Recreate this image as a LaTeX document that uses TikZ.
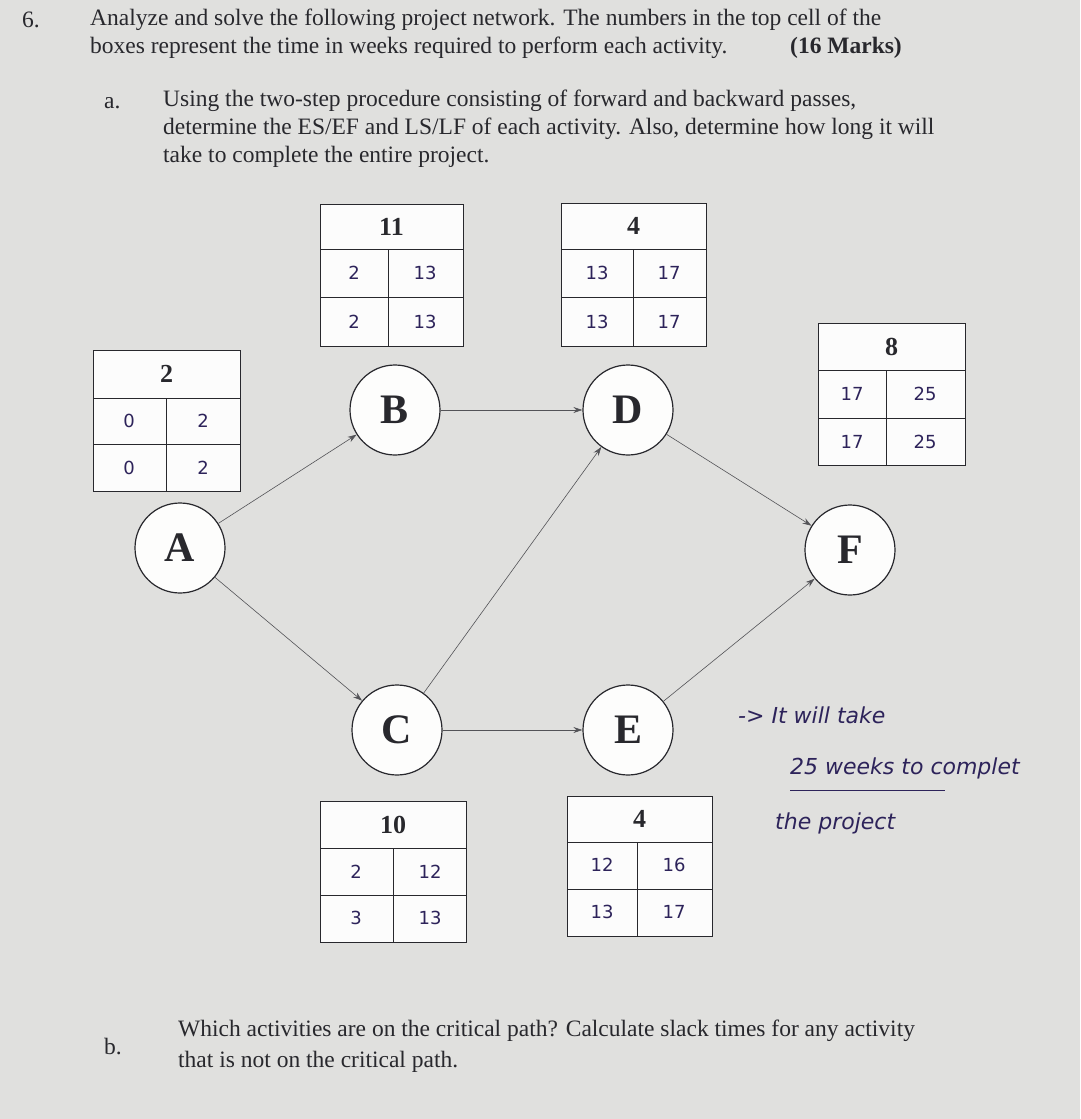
\documentclass[tikz,border=0pt]{standalone}
\usepackage{fontspec}
\setmainfont{Liberation Serif}
\newfontfamily\hand{DejaVu Sans}
\usetikzlibrary{arrows.meta}
\definecolor{paper}{RGB}{224,224,222}
\definecolor{ink}{RGB}{40,40,45}
\definecolor{pen}{RGB}{45,35,90}
\tikzset{
 txt/.style={anchor=west,inner sep=0pt,font=\fontsize{23.5}{25}\selectfont,text=ink},
 act/.style={circle,draw=ink,line width=1.2pt,fill=white!92!paper,minimum size=90pt,inner sep=0pt,font=\fontsize{42}{44}\selectfont\bfseries,text=ink},
 con/.style={draw=ink!80,line width=0.6pt,-{Stealth[length=9pt,width=6pt]}},
 num/.style={font=\hand\fontsize{18}{19}\selectfont,text=pen},
 dur/.style={font=\fontsize{26}{28}\selectfont\bfseries,text=ink},
 note/.style={anchor=west,inner sep=0pt,font=\hand\itshape\fontsize{22}{24}\selectfont,text=pen}
}
\newcommand{\tbox}[9]{%
 \fill[white!90!paper] (#1,#4) rectangle (#2,#7);
 \draw[ink,line width=1pt] (#1,#4) rectangle (#2,#7) (#1,#5)--(#2,#5) (#1,#6)--(#2,#6) (#3,#5)--(#3,#7);
 \node[dur] (#8) at ({(#1+#2)/2},{(#4+#5)/2}) {#9};
}
\begin{document}
\begin{tikzpicture}[x=1pt,y=-1pt]
\fill[paper] (0,0) rectangle (1080,1119);
\useasboundingbox (0,0) rectangle (1080,1119);
\node[txt] (n6) at (22,20) {6.};
\node[txt] (h1) at (90,20) {Analyze and solve the following project network. The numbers in the top cell of the};
\node[txt] (h2) at (90,48) {boxes represent the time in weeks required to perform each activity.};
\node[txt,font=\fontsize{23.5}{25}\selectfont\bfseries] (mk) at (790,48) {(16 Marks)};
\node[txt] (la) at (104,103) {a.};
\node[txt] (a1) at (163,101) {Using the two-step procedure consisting of forward and backward passes,};
\node[txt] (a2) at (163,129) {determine the ES/EF and LS/LF of each activity. Also, determine how long it will};
\node[txt] (a3) at (163,157) {take to complete the entire project.};

\tbox{320}{463}{388}{204}{249}{297}{346}{bB}{11}
\node[num] at (354,273) {2}; \node[num] at (425,273) {13};
\node[num] at (354,322) {2}; \node[num] at (425,322) {13};
\tbox{561}{706}{633}{203}{249}{297}{346}{bD}{4}
\node[num] at (597,273) {13}; \node[num] at (669,273) {17};
\node[num] at (597,322) {13}; \node[num] at (669,322) {17};
\tbox{818}{965}{886}{323}{370}{418}{465}{bF}{8}
\node[num] at (852,394) {17}; \node[num] at (925,394) {25};
\node[num] at (852,442) {17}; \node[num] at (925,442) {25};
\tbox{93}{240}{166}{350}{398}{444}{491}{bA}{2}
\node[num] at (129,421) {0}; \node[num] at (203,421) {2};
\node[num] at (129,468) {0}; \node[num] at (203,468) {2};
\tbox{320}{466}{393}{801}{848}{895}{942}{bC}{10}
\node[num] at (356,872) {2}; \node[num] at (430,872) {12};
\node[num] at (356,918) {3}; \node[num] at (430,918) {13};
\tbox{567}{712}{637}{796}{842}{889}{936}{bE}{4}
\node[num] at (602,865) {12}; \node[num] at (674,865) {16};
\node[num] at (602,912) {13}; \node[num] at (674,912) {17};

\node[act] (A) at (180,548) {A};
\node[act] (B) at (395,410) {B};
\node[act] (D) at (628,410) {D};
\node[act] (F) at (850,550) {F};
\node[act] (C) at (397,730) {C};
\node[act] (E) at (628,730) {E};
\draw[con] (A) -- (B);
\draw[con] (A) -- (C);
\draw[con] (B) -- (D);
\draw[con] (C) -- (D);
\draw[con] (C) -- (E);
\draw[con] (D) -- (F);
\draw[con] (E) -- (F);

\node[note] (t1) at (738,715) {-> It will take};
\node[note] (t2) at (790,768) {25 weeks to complet};
\draw[pen,line width=1pt] (790,790) -- (945,790);
\node[note] (t3) at (775,823) {the project};

\node[txt] (lb) at (104,1046) {b.};
\node[txt] (b1) at (178,1031) {Which activities are on the critical path? Calculate slack times for any activity};
\node[txt] (b2) at (178,1062) {that is not on the critical path.};
\end{tikzpicture}
\end{document}
